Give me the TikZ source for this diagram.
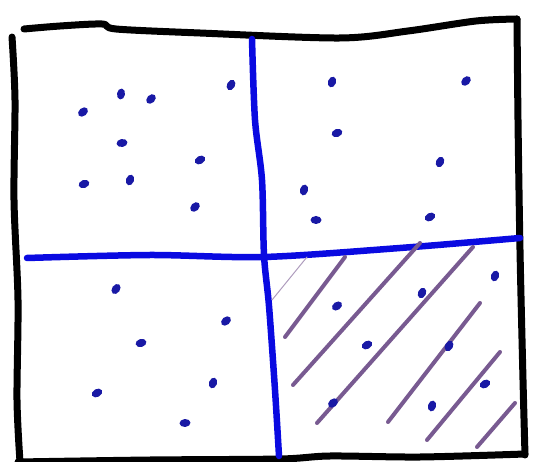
\documentclass[tikz,border=0pt]{standalone}
\definecolor{penblue}{RGB}{10,10,225}
\definecolor{dotblue}{RGB}{25,25,165}
\definecolor{hatchpurple}{RGB}{120,90,145}

\begin{document}
\begin{tikzpicture}[x=1pt,y=-1pt,line cap=round,line join=round]
\tikzset{
  frame/.style={draw=black,line width=7pt},
  cross/.style={draw=penblue,line width=6.5pt},
  hatch/.style={draw=hatchpurple,line width=4pt},
  faint/.style={draw=hatchpurple!60,line width=1pt},
  speck/.style={fill=dotblue,draw=none}
}
\useasboundingbox (0,0) rectangle (533,462);
% outer square
\draw[frame] plot[smooth,tension=.5] coordinates {(24,29) (60,26) (102,24) (116,29) (200,33) (340,38) (408,31) (476,21) (517,19)};
\draw[frame] plot[smooth,tension=.5] coordinates {(517,19) (518,120) (520,250) (523,380) (525,455)};
\draw[frame] plot[smooth,tension=.5] coordinates {(18,462) (150,460) (280,459) (330,456) (420,457) (525,454)};
\draw[frame] plot[smooth,tension=.5] coordinates {(12,37) (15,100) (14,200) (18,300) (17,400) (20,462)};
% blue cross
\draw[cross] plot[smooth,tension=.5] coordinates {(252,39) (255,120) (262,180) (264,255) (269,306) (275,390) (279,456)};
\draw[cross] plot[smooth,tension=.5] coordinates {(27,258) (150,255) (264,257) (400,248) (520,238)};
% hatching
\draw[faint] (272,300) -- (307,257);
\draw[hatch] (285,337) -- (345,257);
\draw[hatch] (293,385) -- (420,243);
\draw[hatch] (317,423) -- (473,247);
\draw[hatch] (388,422) -- (480,303);
\draw[hatch] (427,440) -- (500,352);
\draw[hatch] (477,447) -- (515,403);
% specks
\foreach \x/\y/\r in {83/112/40,121/94/80,151/99/45,231/85/60,122/143/10,200/160/30,84/184/20,130/180/70,195/207/45,
  332/82/70,466/81/45,337/133/20,440/162/65,304/190/75,316/220/0,430/217/30,
  116/289/55,226/321/40,141/343/15,213/383/70,97/393/30,185/423/5,
  495/276/70,422/293/65,337/306/35,367/345/30,449/346/60,333/403/40,485/384/30,432/406/75}
  \fill[speck,rotate around={\r:(\x,\y)}] (\x,\y) ellipse (5.5 and 4);
\end{tikzpicture}
\end{document}
